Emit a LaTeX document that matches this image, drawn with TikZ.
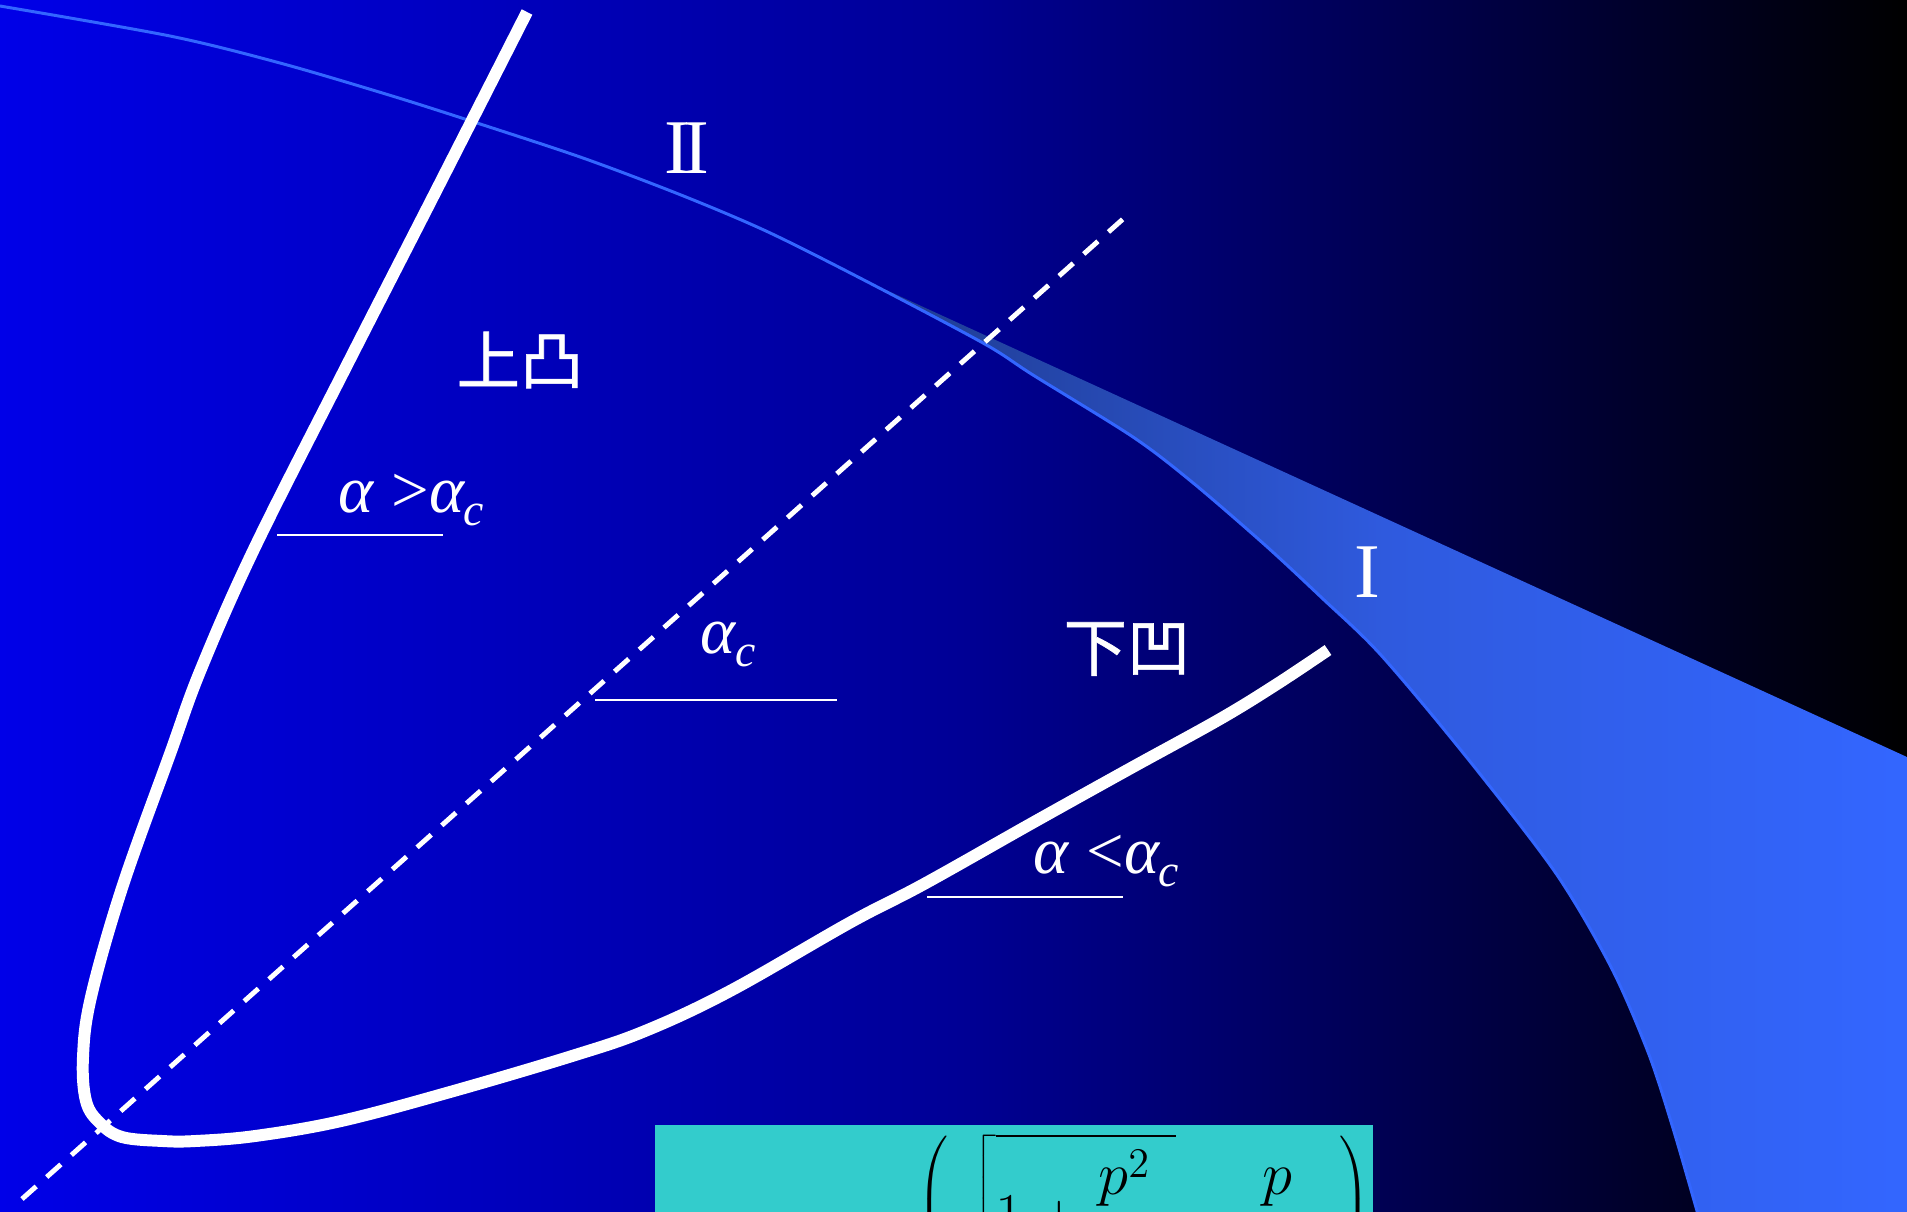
\documentclass[tikz,border=0pt]{standalone}
\usepackage{fontspec}
\setmainfont{Liberation Serif}
\newfontfamily\cjk[FakeBold=1]{Noto Sans CJK SC}
\usetikzlibrary{positioning}
\definecolor{bgleft}{RGB}{0,0,232}
\definecolor{bgmid}{RGB}{0,0,150}
\definecolor{curveblue}{RGB}{51,102,255}
\definecolor{wedgeleft}{RGB}{30,58,140}
\definecolor{wedgemid}{RGB}{47,90,222}
\definecolor{boxcyan}{RGB}{51,204,204}
\newcommand{\alphac}{\textit{α}\kern-0.5pt\raisebox{-0.45ex}{\fontsize{13}{13}\selectfont\textit{c}}}

\begin{document}
\begin{tikzpicture}[x=0.01cm, y=-0.01cm,
    thickline/.style={white, line width=3.4pt},
    thinline/.style={curveblue, line width=0.85pt},
    dashline/.style={white, line width=1.4pt, dash pattern=on 5.4pt off 4pt},
    romanlabel/.style={text=white, inner sep=0pt, font=\fontsize{22}{26}\selectfont},
    cjklabel/.style={text=white, inner sep=0pt, font=\cjk\fontsize{18}{22}\selectfont},
    alabel/.style={text=white, inner sep=0pt, anchor=base west, font=\fontsize{19}{23}\selectfont},
    uline/.style={white, line width=0.6pt}
]
\useasboundingbox (0,0) rectangle (1907,1211);
\clip (0,0) rectangle (1907,1211);
% background
\shade[left color=bgleft, right color=black, middle color=bgmid] (0,0) rectangle (1907,1211);

% region I
\shade[left color=wedgeleft, right color=curveblue, middle color=wedgemid]
  plot[smooth] coordinates {(860,278) (983,343) (1033,375) (1133,437) (1192,482) (1265,545) (1322,598) (1380,654) (1464,754) (1555,872) (1611,967) (1648,1052) (1672,1125) (1697,1211) (1722,1300)}
  -- (1907,1300) -- (1907,757) -- cycle;
\draw[thinline] plot[smooth] coordinates {(0,6) (170,36) (280,63) (389,95) (474,122) (583,158) (681,195) (766,231) (860,278) (983,343) (1033,375) (1133,437) (1192,482) (1265,545) (1322,598) (1380,654) (1464,754) (1555,872) (1611,967) (1648,1052) (1672,1125) (1697,1211) (1722,1300)};

% critical line
\coordinate (dlo) at (22,1199);
\coordinate (dhi) at (1123,219);
\draw[dashline] (dlo) -- (dhi);

% thick curve
\draw[thickline] plot[smooth, tension=0.6] coordinates {(527,12) (437,189) (347,365) (255,547) (201,669) (170,754) (122,888) (91,997) (83,1057) (86,1101) (100,1123) (122,1137) (163,1141) (195,1141) (255,1136) (341,1121) (450,1092) (572,1056) (645,1031) (730,991) (851,922) (924,884) (1034,822) (1131,768) (1220,719) (1277,684) (1328,650)};

% labels
\node[romanlabel] (two) at (687,148) {I\kern-2pt I};
\node[romanlabel] (one) at (1367,572) {I};
\node[cjklabel] (convex) at (520,360) {上凸};
\node[cjklabel] (concave) at (1127,649) {下凹};
\node[alabel] (agt) at (338,512) {\textit{α} >\alphac};
\node[alabel] (aeq) at (700,653) {\alphac};
\node[alabel] (alt) at (1033,873) {\textit{α} <\alphac};
\draw[uline] (277,535) -- (443,535);
\draw[uline] (595,700) -- (837,700);
\draw[uline] (927,897) -- (1123,897);

% formula box
\fill[boxcyan] (655,1125) rectangle (1373,1260);
\node[inner sep=0pt, anchor=north west, font=\fontsize{17}{20}\selectfont] (formula) at (917,1133)
  {$\displaystyle\left(\,\sqrt{1+\frac{p^{2}\hspace{6pt}}{\hspace{19pt}\vphantom{4}}}-\frac{p}{\hspace{13pt}\vphantom{2}}\hspace{10pt}\right)$};
\end{tikzpicture}
\end{document}
